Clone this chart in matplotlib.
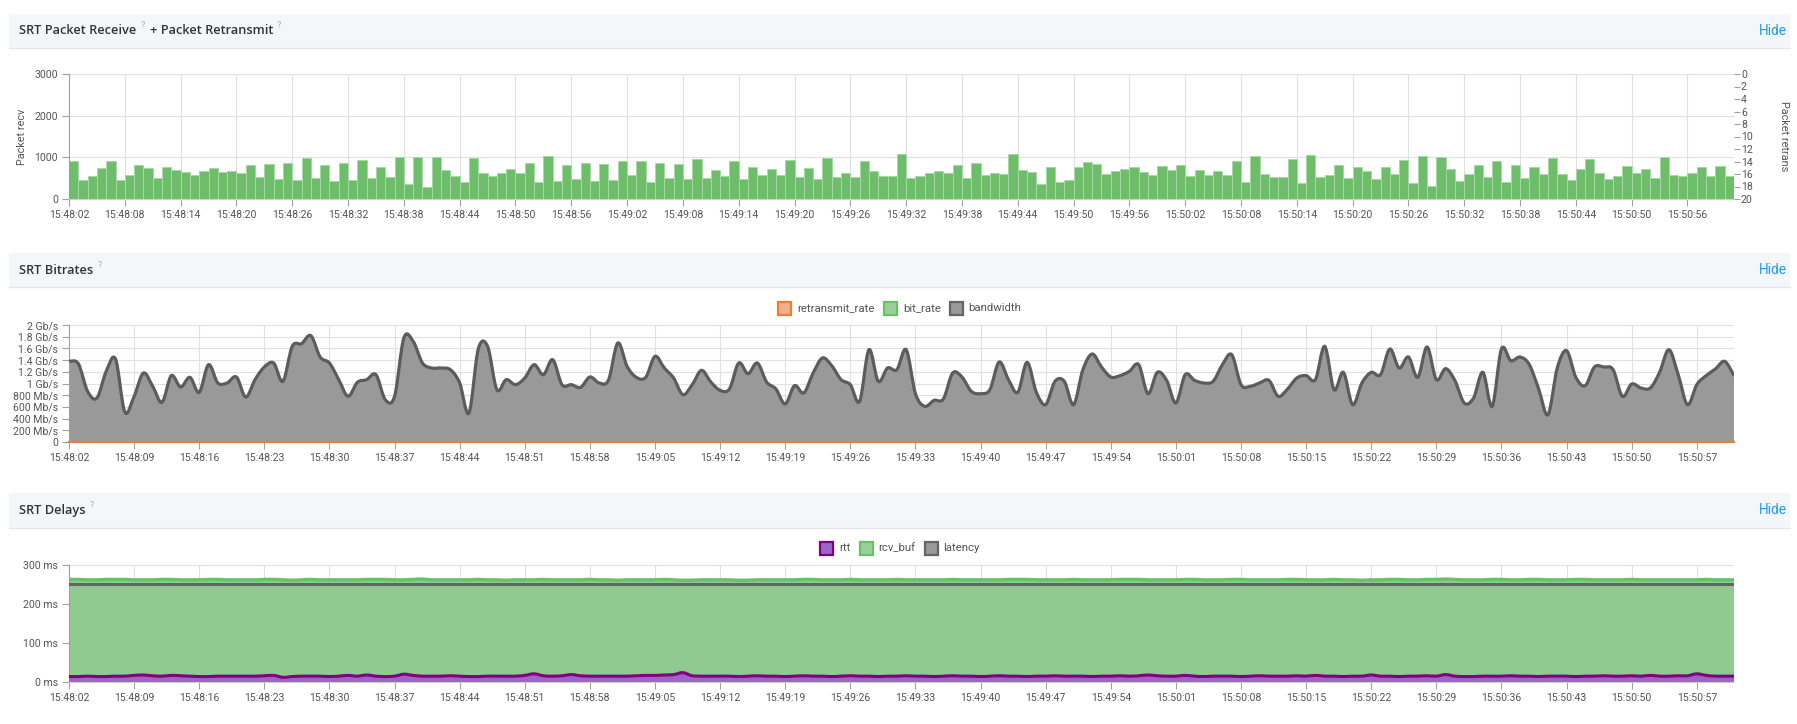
import numpy as np
import matplotlib
matplotlib.use("Agg")
from matplotlib import pyplot as plt
from matplotlib.path import Path
from matplotlib.patches import PathPatch, Rectangle

plt.rcParams["font.family"] = ["Roboto", "DejaVu Sans"]

W, H = 1797, 724
START = 15 * 3600 + 48 * 60 + 2  # 15:48:02

# packets received per second (179 bars)
packet_recv = [
    904, 456, 560, 736, 920, 456, 584, 816, 736, 512,
    760, 696, 656, 584, 672, 752, 656, 680, 632, 824,
    536, 848, 488, 864, 464, 984, 496, 816, 424, 864,
    456, 936, 512, 768, 520, 1000, 368, 1016, 288, 1000,
    704, 552, 400, 984, 632, 560, 632, 728, 632, 856,
    408, 1040, 432, 824, 472, 864, 424, 848,
    456, 912, 568, 912, 416, 872, 512, 848, 488, 960,
    504, 696, 560, 912, 488, 768, 584, 712, 568, 944,
    528, 736, 488, 976, 528, 632, 520, 912, 672, 544,
    560, 1080, 504, 560, 632, 680, 632, 824, 504, 864,
    568, 616, 592, 1072, 688, 648, 368, 760, 416, 456,
    768, 888, 832, 608, 672, 728, 776, 648, 568, 792,
    704, 816, 544, 696,
    576, 680, 576, 920, 408, 1040, 608, 536, 536, 960,
    384, 1056, 536, 576, 824, 504, 760, 664, 488, 768,
    608, 936, 384, 1040, 312, 1016, 712, 424, 608, 816,
    528, 912, 408, 808, 512, 760, 600, 984, 608, 456,
    712, 968, 616, 480, 560, 800, 624, 728, 496, 1000,
    576, 552, 624, 776, 552, 800, 544,
]

# bandwidth in Mb/s, one point per second
bandwidth = [
    1379, 1339, 866, 752, 1208, 1419, 513, 781, 1179, 952,
    678, 1134, 940, 1105, 849, 1322, 1009, 1009, 1111, 769,
    1066, 1282, 1350, 1037, 1635, 1681, 1818, 1453, 1350, 1066,
    781, 1020, 1066, 1151, 724, 781, 1778, 1721, 1350, 1265,
    1265, 1236, 1009, 496, 1590, 1635, 895, 1066, 980, 1094,
    1322, 1151, 1407, 980, 980, 934, 1111, 1009, 1060, 1692,
    1293, 1105, 1105, 1464, 1265, 1094, 809, 980, 1225, 1026,
    883, 906, 1350, 1168, 1350, 1026, 906, 650, 963, 838,
    1179, 1436, 1305, 1066, 980, 695, 1578, 1037, 1265, 1236,
    1578, 826, 610, 712, 735, 1179, 1111, 866, 826, 895,
    1367, 1066, 849, 1362, 849, 638, 1037, 1037, 638, 1236,
    1504, 1282, 1111, 1134, 1208, 1322, 826, 1191, 1054, 667,
    1151, 1054, 1009, 1037, 1322, 1493, 980, 952, 1009, 1054,
    781, 906, 1094, 1134, 1066, 1635, 895, 1191, 638, 1009,
    1191, 1151, 1590, 1265, 1453, 1105, 1624, 1066, 1254, 1048,
    667, 752, 1191, 610, 1590, 1390, 1453, 1322, 906, 467,
    1265, 1561, 1105, 963, 1282, 1282, 1236, 781, 991, 923,
    923, 1191, 1578, 1151, 638, 980, 1134, 1248, 1379, 1134,
]
retransmit_rate = [0] * 180

# delays in ms
rtt_ms = [
    14, 14, 15, 14, 14, 15, 15, 17, 18, 16,
    15, 17, 16, 15, 14, 14, 15, 15, 15, 15,
    15, 16, 17, 12, 14, 15, 15, 15, 14, 15,
    17, 15, 18, 15, 14, 15, 20, 17, 15, 15,
    15, 16, 15, 14, 14, 15, 15, 15, 15, 17,
    21, 16, 15, 16, 19, 16, 15, 15, 15, 15,
    15, 16, 17, 17, 18, 19, 24, 16, 15, 15,
    15, 15, 14, 15, 16, 15, 15, 14, 15, 16,
    15, 15, 14, 15, 16, 15, 15, 14, 15, 15,
    16, 15, 15, 14, 15, 16, 15, 15, 14, 15,
    16, 15, 15, 14, 15, 15, 16, 15, 15, 15,
    14, 15, 15, 16, 15, 16, 18, 16, 15, 15,
    17, 15, 14, 15, 15, 15, 14, 15, 16, 15,
    15, 15, 16, 15, 17, 15, 15, 14, 15, 15,
    18, 15, 15, 14, 15, 15, 16, 15, 19, 15,
    14, 14, 15, 15, 15, 16, 15, 15, 14, 15,
    15, 15, 14, 15, 15, 16, 15, 15, 16, 15,
    17, 15, 15, 16, 16, 21, 17, 15, 15, 15,
]
rcv_buf_ms = [
    263, 263, 262, 262, 263, 263, 263, 262, 262, 262,
    263, 263, 262, 262, 262, 263, 263, 262, 262, 262,
    262, 263, 263, 262, 261, 262, 263, 262, 262, 262,
    262, 262, 263, 263, 263, 262, 262, 263, 264, 262,
    262, 262, 262, 262, 263, 262, 262, 261, 262, 262,
    262, 263, 262, 262, 262, 262, 263, 262, 262, 261,
    262, 262, 262, 262, 263, 262, 261, 261, 262, 262,
    262, 262, 261, 261, 262, 262, 262, 262, 262, 263,
    263, 262, 262, 262, 263, 262, 262, 262, 262, 263,
    262, 262, 262, 262, 262, 263, 262, 262, 262, 262,
    262, 263, 263, 263, 262, 262, 262, 262, 263, 262,
    262, 262, 262, 263, 263, 263, 262, 262, 262, 262,
    263, 263, 262, 262, 262, 263, 263, 262, 262, 262,
    262, 263, 263, 262, 262, 262, 263, 262, 262, 261,
    262, 262, 263, 263, 262, 262, 263, 263, 264, 263,
    262, 262, 262, 263, 263, 262, 262, 263, 263, 262,
    262, 262, 263, 263, 262, 262, 262, 262, 263, 262,
    262, 262, 262, 262, 262, 262, 263, 262, 262, 262,
]
LATENCY_MS = 251


def px(x, y):
    return x / W, 1 - y / H


def rect(l, t, r, b):
    return [l / W, 1 - b / H, (r - l) / W, (b - t) / H]


def hms(s):
    s += START
    return "%02d:%02d:%02d" % (s // 3600, s // 60 % 60, s % 60)


def smooth_path(x, y, base=None):
    # cubic bezier segments through the points (catmull-rom style)
    pts = np.column_stack([x, y]).astype(float)
    p = np.vstack([pts[:1], pts, pts[-1:]])
    verts, codes = [pts[0]], [Path.MOVETO]
    for i in range(len(pts) - 1):
        p0, p1, p2, p3 = p[i], p[i + 1], p[i + 2], p[i + 3]
        verts += [p1 + (p2 - p0) / 6, p2 - (p3 - p1) / 6, p2]
        codes += [Path.CURVE4] * 3
    if base is not None:
        verts += [(x[-1], base), (x[0], base), pts[0]]
        codes += [Path.LINETO, Path.LINETO, Path.CLOSEPOLY]
    return Path(verts, codes)


fig = plt.figure(figsize=(W / 100, H / 100), dpi=100)
R = fig.canvas.get_renderer()


def header(top, bottom, title_runs):
    fig.add_artist(Rectangle(px(9, bottom), (1790 - 9) / W, (bottom - top) / H,
                             transform=fig.transFigure, facecolor="#f4f7fa",
                             edgecolor="none", zorder=0))
    fig.add_artist(plt.Line2D([9 / W, 1790 / W], [1 - bottom / H] * 2,
                              transform=fig.transFigure, color="#e1e5ea", lw=0.9))
    cy = (top + bottom) / 2
    x = 19
    for text, kind in title_runs:
        if kind == "q":
            t = fig.text(*px(x + 2, cy - 5), text, fontsize=6.5, color="#a8b0b8",
                         va="center", ha="left")
            x += t.get_window_extent(R).width + 7
        else:
            t = fig.text(*px(x, cy), text, fontsize=9.2, color="#333",
                         family=["Open Sans", "Roboto"], fontweight="semibold",
                         va="center", ha="left")
            x += t.get_window_extent(R).width + 2
    fig.text(*px(1787, cy), "Hide", fontsize=9.8, color="#1a9af0",
             va="center", ha="right")


def legend(cx, cy, items):
    texts = [fig.text(0, 0, lab, fontsize=8.2, color="#555", va="center", ha="left")
             for lab, _, _ in items]
    widths = [t.get_window_extent(R).width for t in texts]
    sq, gap, sep = 13, 6, 9
    total = sum(sq + gap + w for w in widths) + sep * (len(items) - 1)
    x = cx - total / 2
    for (lab, face, edge), t, w in zip(items, texts, widths):
        fig.add_artist(Rectangle(px(x, cy + sq / 2), sq / W, sq / H,
                                 transform=fig.transFigure, facecolor=face,
                                 edgecolor=edge, lw=1.6))
        t.set_position(px(x + sq + gap, cy))
        x += sq + gap + w + sep


def style(ax, step):
    ax.set_xlim(0, 179)
    ticks = list(range(0, 179, step))
    ax.set_xticks(ticks)
    ax.set_xticklabels([hms(t) for t in ticks])
    ax.grid(True, color="#e0e0e0", lw=0.8)
    ax.set_axisbelow(True)
    for s in ("top", "right"):
        ax.spines[s].set_visible(False)
    ax.spines["left"].set_color("#a0a0a0")
    ax.spines["bottom"].set_color("#d0d0d0")
    ax.tick_params(colors="#a0a0a0", labelcolor="#555", labelsize=7.6,
                   length=5, width=0.8, pad=3)
    ax.set_facecolor("none")


PL, PR = 69, 1734

# ---- panel 1: packet receive / retransmit
header(14, 48, [("SRT Packet Receive", "t"), ("?", "q"),
                ("+ Packet Retransmit", "t"), ("?", "q")])
ax1 = fig.add_axes(rect(PL, 74, PR, 199))
ax1.bar(np.arange(len(packet_recv)), packet_recv, width=1, align="edge",
        color="#6dbd6b", edgecolor="#a6daa5", lw=0.7, zorder=2)
ax1.set_ylim(0, 3000)
ax1.set_yticks([0, 1000, 2000, 3000])
style(ax1, 6)
ax1.set_ylabel("Packet recv", fontsize=7.8, color="#555", labelpad=5)
ax1r = ax1.twinx()
ax1r.set_ylim(20, 0)
ax1r.set_yticks(range(0, 21, 2))
for s in ax1r.spines.values():
    s.set_visible(False)
ax1r.tick_params(colors="#a0a0a0", labelcolor="#555", labelsize=7.6,
                 length=4, width=0.8, pad=1)
ax1r.set_ylabel("Packet retrans", fontsize=7.8, color="#555", rotation=270,
                labelpad=26)

# ---- panel 2: bitrates
header(253, 287, [("SRT Bitrates", "t"), ("?", "q")])
legend(900, 308, [("retransmit_rate", "#f4b08a", "#e8803a"),
                  ("bit_rate", "#98d198", "#6abf69"),
                  ("bandwidth", "#999999", "#666666")])
ax2 = fig.add_axes(rect(PL, 325, PR, 442))
t2 = np.arange(len(bandwidth))
ax2.add_patch(PathPatch(smooth_path(t2, bandwidth, base=0), facecolor="#999999",
                        edgecolor="none", zorder=2))
ax2.add_patch(PathPatch(smooth_path(t2, bandwidth), facecolor="none",
                        edgecolor="#5c5c5c", lw=2.3, zorder=3, joinstyle="round"))
ax2.plot(t2, retransmit_rate, color="#e8803a", lw=1.6, zorder=4, clip_on=False)
ax2.set_ylim(0, 2000)
yt = list(range(0, 2001, 200))
ax2.set_yticks(yt)
ax2.set_yticklabels(["0" if v == 0 else ("%d Mb/s" % v if v < 1000 else "%g Gb/s" % (v / 1000))
                     for v in yt])
style(ax2, 7)

# ---- panel 3: delays
header(493, 528, [("SRT Delays", "t"), ("?", "q")])
legend(900, 548, [("rtt", "#9b66c8", "#800080"),
                  ("rcv_buf", "#98d198", "#6abf69"),
                  ("latency", "#999999", "#666666")])
ax3 = fig.add_axes(rect(PL, 565, PR, 682))
t3 = np.arange(len(rtt_ms))
ax3.add_patch(PathPatch(smooth_path(t3, rcv_buf_ms, base=0), facecolor="#91ca91",
                        edgecolor="none", zorder=2))
ax3.add_patch(PathPatch(smooth_path(t3, rcv_buf_ms), facecolor="none",
                        edgecolor="#6abf69", lw=2.4, zorder=3))
ax3.plot([0, 179], [LATENCY_MS] * 2, color="#646464", lw=2.2, zorder=4)
ax3.add_patch(PathPatch(smooth_path(t3, rtt_ms, base=0), facecolor="#9b66c8",
                        edgecolor="none", zorder=5))
ax3.add_patch(PathPatch(smooth_path(t3, rtt_ms), facecolor="none",
                        edgecolor="#800080", lw=2.2, zorder=6))
ax3.set_ylim(0, 300)
ax3.set_yticks([0, 100, 200, 300])
ax3.set_yticklabels(["%d ms" % v for v in [0, 100, 200, 300]])
style(ax3, 7)

fig.savefig("out.png", dpi=100)
